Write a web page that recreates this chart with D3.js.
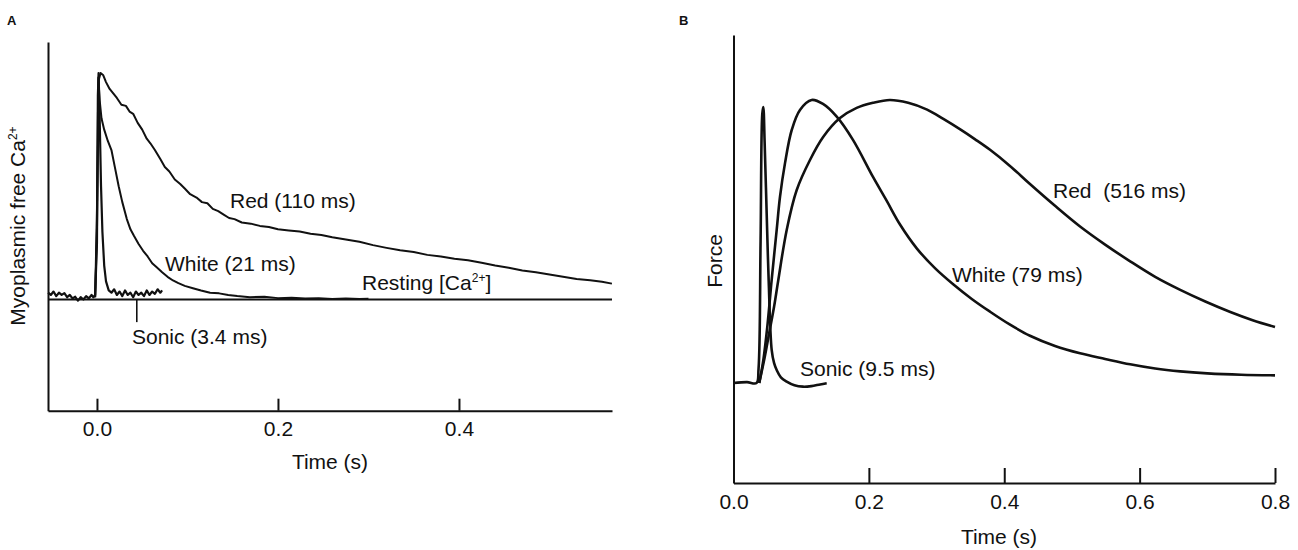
<!DOCTYPE html>
<html>
<head>
<meta charset="utf-8">
<script src="https://cdn.jsdelivr.net/npm/d3@7"></script>
<style>
  html, body { margin: 0; padding: 0; background: #fff; }
  svg { display: block; font-family: "Liberation Sans", Arial, Helvetica, sans-serif; }
  text { fill: #111; }
</style>
</head>
<body>
<svg id="chart" width="1298" height="550"></svg>
<script>
// ---------- Panel A data: time (s), relative myoplasmic free Ca2+ (0 = resting, 1 = peak)
const redA = [[-0.002,0.01],[0.0,0.3],[0.002,0.97],[0.004,1.0],[0.007,0.99],[0.010,0.96],[0.014,0.93],[0.018,0.91],[0.022,0.89],[0.027,0.86],[0.032,0.855],[0.036,0.83],[0.040,0.82],[0.045,0.78],[0.050,0.75],[0.055,0.71],[0.059,0.69],[0.064,0.66],[0.070,0.62],[0.075,0.585],[0.080,0.565],[0.086,0.53],[0.092,0.51],[0.097,0.49],[0.103,0.465],[0.110,0.45],[0.116,0.43],[0.122,0.425],[0.128,0.40],[0.134,0.39],[0.140,0.375],[0.146,0.36],[0.152,0.355],[0.160,0.34],[0.170,0.335],[0.180,0.325],[0.190,0.32],[0.200,0.31],[0.212,0.305],[0.224,0.30],[0.236,0.29],[0.248,0.285],[0.260,0.275],[0.275,0.265],[0.290,0.255],[0.305,0.24],[0.320,0.228],[0.335,0.217],[0.350,0.21],[0.365,0.197],[0.380,0.19],[0.395,0.18],[0.410,0.173],[0.425,0.162],[0.440,0.15],[0.455,0.14],[0.470,0.128],[0.485,0.12],[0.500,0.11],[0.515,0.10],[0.530,0.09],[0.545,0.085],[0.558,0.078],[0.569,0.07]];
const whiteA = [[-0.002,0.01],[0.0,0.4],[0.0015,0.98],[0.003,0.88],[0.005,0.80],[0.008,0.75],[0.012,0.70],[0.016,0.66],[0.020,0.58],[0.024,0.50],[0.028,0.43],[0.033,0.355],[0.037,0.31],[0.041,0.28],[0.046,0.245],[0.051,0.215],[0.056,0.19],[0.061,0.16],[0.066,0.142],[0.072,0.12],[0.078,0.10],[0.084,0.084],[0.090,0.072],[0.097,0.06],[0.106,0.05],[0.115,0.04],[0.125,0.03],[0.135,0.027],[0.145,0.02],[0.155,0.015],[0.169,0.01],[0.185,0.012],[0.200,0.006],[0.215,0.008],[0.230,0.004],[0.245,0.006],[0.260,0.002],[0.275,0.004],[0.290,0.002],[0.300,0.003]];
const sonicA = [[-0.054,0.03],[-0.051,0.02],[-0.048,0.035],[-0.045,0.015],[-0.042,0.03],[-0.039,0.02],[-0.036,0.028],[-0.033,0.01],[-0.030,0.02],[-0.027,0.005],[-0.024,0.012],[-0.021,-0.005],[-0.018,0.01],[-0.015,0.0],[-0.012,0.015],[-0.009,0.005],[-0.006,0.02],[-0.004,0.01],[-0.002,0.02],[0.0,0.25],[0.001,0.9],[0.0018,1.0],[0.003,0.8],[0.0045,0.5],[0.006,0.3],[0.008,0.15],[0.010,0.08],[0.013,0.04],[0.016,0.03],[0.019,0.045],[0.022,0.02],[0.025,0.035],[0.028,0.015],[0.031,0.04],[0.034,0.02],[0.037,0.03],[0.040,0.01],[0.043,0.035],[0.046,0.02],[0.049,0.03],[0.052,0.015],[0.055,0.04],[0.058,0.02],[0.061,0.035],[0.064,0.025],[0.067,0.045],[0.070,0.03],[0.072,0.04]];
const restingA = [[-0.0541,0],[0.5691,0]];
const sonicPointerA = [[0.044,0],[0.044,-0.1]];
const ticksA = [0.0, 0.2, 0.4];

// ---------- Panel B data: time (s), relative force (0 = rest, 1 = peak)
const sonicB = [[0,0],[0.020,0.003],[0.034,0.0],[0.037,0.05],[0.040,0.5],[0.0425,0.95],[0.044,0.975],[0.046,0.85],[0.049,0.6],[0.052,0.36],[0.0564,0.117],[0.060,0.07],[0.0638,0.046],[0.070,0.02],[0.0786,0.005],[0.090,-0.008],[0.1027,-0.013],[0.115,-0.011],[0.128,-0.005],[0.1377,-0.001]];
const whiteB = [[0.038,0],[0.044,0.08],[0.050,0.20],[0.0564,0.364],[0.0638,0.541],[0.0687,0.658],[0.0761,0.777],[0.086,0.894],[0.0982,0.965],[0.1155,1.0],[0.1322,0.986],[0.1525,0.941],[0.1765,0.859],[0.2061,0.728],[0.226,0.645],[0.246,0.56],[0.271,0.475],[0.298,0.405],[0.325,0.348],[0.352,0.297],[0.379,0.252],[0.408,0.207],[0.438,0.167],[0.475,0.131],[0.512,0.105],[0.549,0.085],[0.586,0.066],[0.623,0.051],[0.660,0.041],[0.700,0.034],[0.750,0.029],[0.800,0.027]];
const redB = [[0.038,0],[0.046,0.09],[0.053,0.18],[0.060,0.27],[0.0662,0.364],[0.0786,0.541],[0.0934,0.682],[0.113,0.788],[0.1327,0.870],[0.1573,0.936],[0.182,0.972],[0.2061,0.990],[0.231,1.0],[0.258,0.99],[0.286,0.966],[0.310,0.933],[0.335,0.896],[0.357,0.861],[0.379,0.824],[0.408,0.768],[0.438,0.703],[0.475,0.626],[0.512,0.553],[0.549,0.489],[0.586,0.43],[0.623,0.375],[0.660,0.329],[0.697,0.288],[0.734,0.251],[0.767,0.222],[0.800,0.198]];
const ticksB = [0.0, 0.2, 0.4, 0.6, 0.8];

const svg = d3.select("#chart");
const FS = 21;

// ================= PANEL A =================
const xA = d3.scaleLinear().domain([-0.0541, 0.5691]).range([48, 612]);
const yA = d3.scaleLinear().domain([-0.4912, 1.1372]).range([410.7, 42]);
const gA = svg.append("g");

const axA = gA.append("g").attr("transform", `translate(0,${yA.range()[0]})`)
  .call(d3.axisBottom(xA).tickValues(ticksA).tickSize(-12).tickSizeOuter(0).tickFormat(d3.format(".1f")));
axA.select(".domain").attr("stroke", "#111").attr("stroke-width", 2);
axA.selectAll(".tick line").attr("stroke", "#111").attr("stroke-width", 2);
axA.selectAll(".tick text").attr("y", 25.5).attr("dy", null).attr("font-size", FS)
  .attr("font-family", "Liberation Sans, Arial, sans-serif").attr("fill", "#111");

const ayA = gA.append("g").attr("transform", `translate(${xA.range()[0]},0)`)
  .call(d3.axisLeft(yA).tickValues([]).tickSizeOuter(0));
ayA.select(".domain").attr("stroke", "#111").attr("stroke-width", 2);

const lineA = d3.line().x(d => xA(d[0])).y(d => yA(d[1]));
gA.append("path").datum(restingA).attr("d", lineA).attr("fill", "none").attr("stroke", "#111").attr("stroke-width", 2);
gA.append("path").datum(sonicPointerA).attr("d", lineA).attr("fill", "none").attr("stroke", "#111").attr("stroke-width", 1.6);
[[sonicA, 2.2], [whiteA, 2], [redA, 2]].forEach(([d, w]) => {
  gA.append("path").datum(d).attr("d", lineA).attr("fill", "none")
    .attr("stroke", "#111").attr("stroke-width", w).attr("stroke-linejoin", "round");
});

const lblA = gA.append("g").attr("font-size", FS);
lblA.append("text").attr("x", 230).attr("y", 207.5).text("Red (110 ms)");
lblA.append("text").attr("x", 165).attr("y", 270.5).text("White (21 ms)");
lblA.append("text").attr("x", 132).attr("y", 344).text("Sonic (3.4 ms)");
const rest = lblA.append("text").attr("x", 362).attr("y", 290);
rest.append("tspan").text("Resting [Ca");
rest.append("tspan").attr("font-size", 12).attr("dy", -8).text("2+");
rest.append("tspan").attr("dy", 8).text("]");

gA.append("text").attr("x", 330).attr("y", 469).attr("text-anchor", "middle").attr("font-size", FS).text("Time (s)");
const ylabA = gA.append("text").attr("transform", "translate(25,226) rotate(-90)")
  .attr("text-anchor", "middle").attr("font-size", FS);
ylabA.append("tspan").text("Myoplasmic free Ca");
ylabA.append("tspan").attr("font-size", 12).attr("dy", -8).text("2+");
gA.append("text").attr("x", 7).attr("y", 25).attr("font-size", 13).attr("font-weight", "bold").text("A");

// ================= PANEL B =================
const xB = d3.scaleLinear().domain([0, 0.8]).range([733.5, 1275]);
const yB = d3.scaleLinear().domain([-0.3534, 1.2297]).range([483, 35]);
const gB = svg.append("g");

const axB = gB.append("g").attr("transform", `translate(0,${yB.range()[0]})`)
  .call(d3.axisBottom(xB).tickValues(ticksB).tickSize(-15).tickSizeOuter(0).tickFormat(d3.format(".1f")));
axB.select(".domain").attr("stroke", "#111").attr("stroke-width", 2);
axB.selectAll(".tick line").attr("stroke", "#111").attr("stroke-width", 2);
axB.selectAll(".tick text").attr("y", 26).attr("dy", null).attr("font-size", FS)
  .attr("font-family", "Liberation Sans, Arial, sans-serif").attr("fill", "#111");

const ayB = gB.append("g").attr("transform", `translate(${xB.range()[0]},0)`)
  .call(d3.axisLeft(yB).tickValues([]).tickSizeOuter(0));
ayB.select(".domain").attr("stroke", "#111").attr("stroke-width", 2);

const lineB = d3.line().x(d => xB(d[0])).y(d => yB(d[1])).curve(d3.curveCatmullRom.alpha(0.5));
[sonicB, whiteB, redB].forEach(d => {
  gB.append("path").datum(d).attr("d", lineB).attr("fill", "none")
    .attr("stroke", "#111").attr("stroke-width", 2.6).attr("stroke-linejoin", "round");
});

const lblB = gB.append("g").attr("font-size", FS);
lblB.append("text").attr("x", 1053).attr("y", 198).attr("xml:space", "preserve").style("white-space", "pre").text("Red  (516 ms)");
lblB.append("text").attr("x", 952).attr("y", 282).text("White (79 ms)");
lblB.append("text").attr("x", 800).attr("y", 376).text("Sonic (9.5 ms)");

gB.append("text").attr("x", 999).attr("y", 544).attr("text-anchor", "middle").attr("font-size", FS).text("Time (s)");
gB.append("text").attr("transform", "translate(722,261) rotate(-90)").attr("text-anchor", "middle")
  .attr("font-size", FS).text("Force");
gB.append("text").attr("x", 679).attr("y", 25).attr("font-size", 13).attr("font-weight", "bold").text("B");
</script>
</body>
</html>
